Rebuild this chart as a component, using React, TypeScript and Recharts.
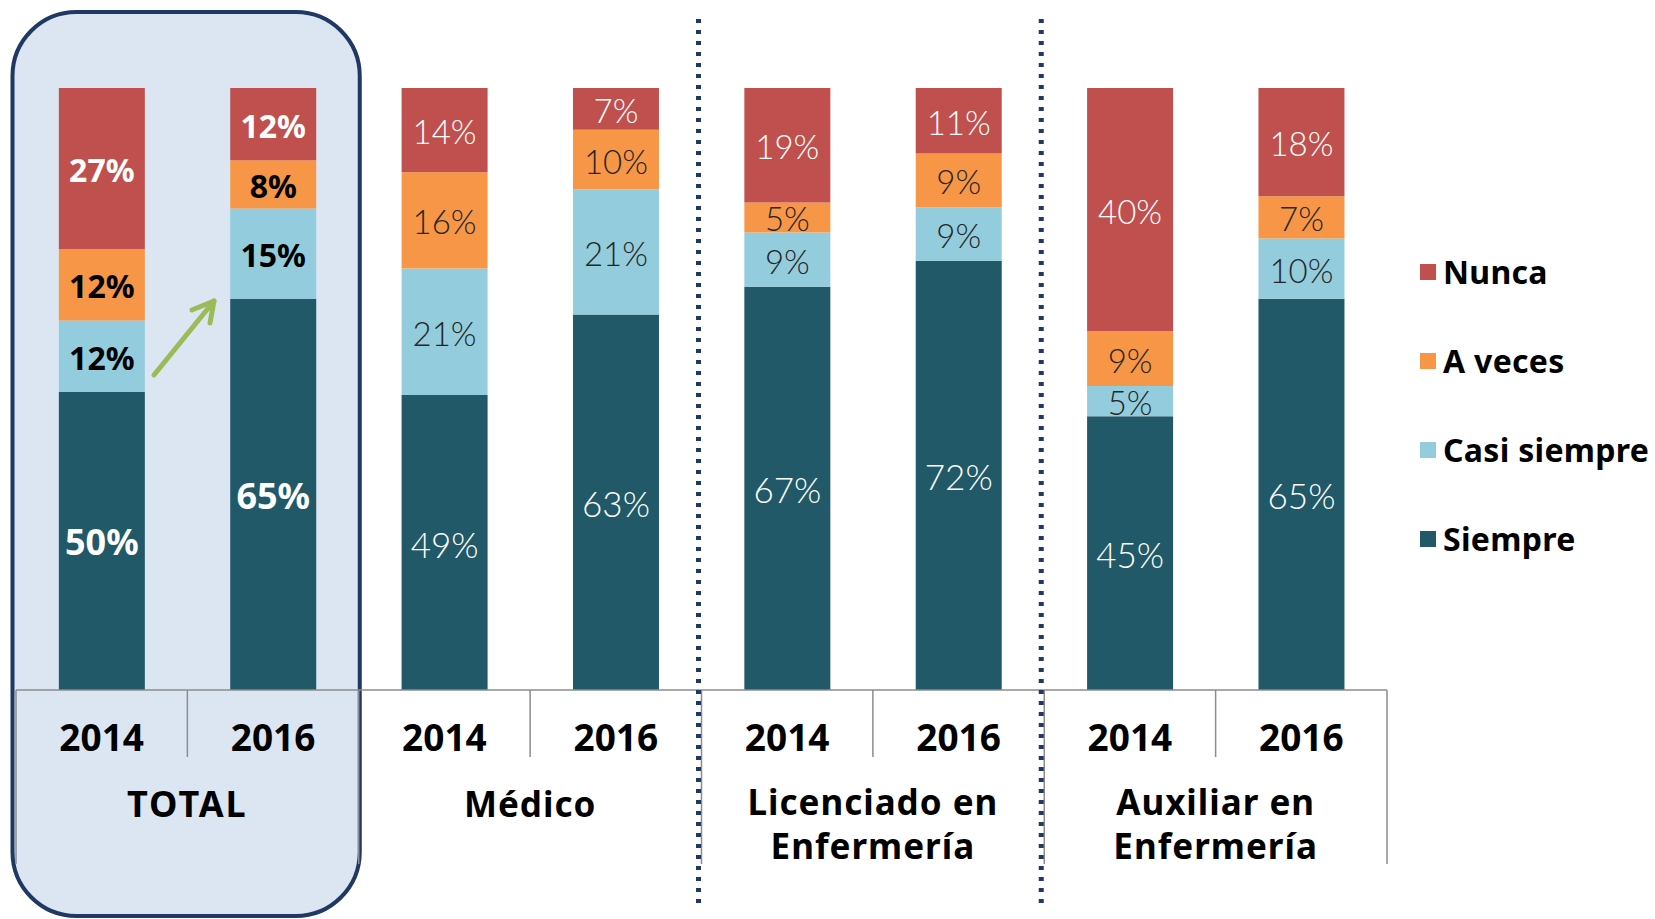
import React from 'react';
import { BarChart, Bar, XAxis, YAxis, LabelList, Legend, ReferenceArea } from 'recharts';

// ---- data ----
const categoryKeys = ['TOTAL 2014', 'TOTAL 2016', 'Médico 2014', 'Médico 2016', 'Lic 2014', 'Lic 2016', 'Aux 2014', 'Aux 2016'];
const years = ['2014', '2016', '2014', '2016', '2014', '2016', '2014', '2016'];
const groupLabels: string[][] = [['TOTAL'], ['Médico'], ['Licenciado en', 'Enfermería'], ['Auxiliar en', 'Enfermería']];
const siempre = [50, 65, 49, 63, 67, 72, 45, 65];
const casiSiempre = [12, 15, 21, 21, 9, 9, 5, 10];
const aVeces = [12, 8, 16, 10, 5, 9, 9, 7];
const nunca = [27, 12, 14, 7, 19, 11, 40, 18];
const seriesNames = ['Siempre', 'Casi siempre', 'A veces', 'Nunca'];
const seriesColors = ['#215968', '#93CDDD', '#F79646', '#C0504D'];

const data = categoryKeys.map((k, i) => ({
  key: k,
  year: years[i],
  siempre: siempre[i],
  casiSiempre: casiSiempre[i],
  aVeces: aVeces[i],
  nunca: nunca[i],
}));

// ---- layout ----
const CHART_W = 1655;
const CHART_H = 919;
const MARGIN = { top: 88, right: 268, bottom: 0, left: 16 };
const XAXIS_H = 229;
const AXIS_Y = CHART_H - MARGIN.bottom - XAXIS_H;
const BAND = (CHART_W - MARGIN.left - MARGIN.right) / categoryKeys.length;
const GRID = '#8C8C8C';
const NAVY = '#1F3864';
const BOLD_FONT = '"Noto Sans", "DejaVu Sans", sans-serif';
const LIGHT_FONT = 'Lato, "Open Sans", sans-serif';

function CategoryTick(props: any) {
  const { x } = props;
  let i = props.index;
  if (typeof i !== 'number') i = categoryKeys.indexOf(props.payload?.value);
  const left = x - BAND / 2;
  const groupStart = i % 2 === 0;
  const g = Math.floor(i / 2);
  return (
    <g>
      <line x1={left} x2={left} y1={AXIS_Y} y2={groupStart ? AXIS_Y + 174 : AXIS_Y + 67} stroke={GRID} strokeWidth={1.5} />
      {i === categoryKeys.length - 1 && (
        <line x1={x + BAND / 2} x2={x + BAND / 2} y1={AXIS_Y} y2={AXIS_Y + 174} stroke={GRID} strokeWidth={1.5} />
      )}
      <text x={x} y={AXIS_Y + 46} textAnchor="middle" dominantBaseline="central"
        style={{ fontFamily: BOLD_FONT, fontWeight: 700, fontSize: 37 }} fill="#000">
        {years[i]}
      </text>
      {groupStart && (
        <text x={x + BAND / 2} y={AXIS_Y + (groupLabels[g].length > 1 ? 111 : 113)} textAnchor="middle" dominantBaseline="central"
          style={{ fontFamily: BOLD_FONT, fontWeight: 700, fontSize: g === 0 ? 36 : 35, letterSpacing: g === 0 ? 2 : 1 }} fill="#000">
          {groupLabels[g].map((line, j) => (
            <tspan key={j} x={x + BAND / 2} dy={j === 0 ? 0 : 44}>{line}</tspan>
          ))}
        </text>
      )}
      {groupStart && i >= 4 && (
        <line x1={left - 3} x2={left - 3} y1={19} y2={906} stroke={NAVY} strokeWidth={5} strokeDasharray="4 7" />
      )}
    </g>
  );
}

function TotalBox(p: any) {
  const bx = p.x - 3.5;
  const bw = p.width + 4.5;
  const tailX = p.x + 138;
  const tailY = p.y + 287;
  const tipX = p.x + 198;
  const tipY = p.y + 213;
  return (
    <g>
      <rect x={bx} y={12} width={bw} height={904} rx={64} ry={64} fill="#DCE6F2" stroke={NAVY} strokeWidth={4} />
      <line x1={tailX} y1={tailY} x2={tipX} y2={tipY} stroke="#9BBB59" strokeWidth={5} strokeLinecap="round" />
      <polyline points={`${tipX - 22},${tipY + 9} ${tipX},${tipY} ${tipX - 4},${tipY + 22}`} fill="none" stroke="#9BBB59" strokeWidth={5} strokeLinecap="round" strokeLinejoin="round" />
    </g>
  );
}

const makeLabel = (textColor: string, big: boolean) => (props: any) => {
  const vb = props.viewBox && typeof props.viewBox.x === 'number' ? props.viewBox : props;
  const x = Number(vb.x);
  const y = Number(vb.y);
  const w = Number(vb.width);
  const h = Number(vb.height);
  const idx = props.index;
  const isTotal = typeof idx === 'number' ? idx < 2 : x < MARGIN.left + 2 * BAND;
  const cx = x + w / 2;
  const cy = y + h / 2;
  if (isTotal) {
    return (
      <text x={cx} y={cy + 1} textAnchor="middle" dominantBaseline="central"
        style={{ fontFamily: BOLD_FONT, fontWeight: 700, fontSize: big ? 36 : 32 }} fill={textColor}>
        {props.value}%
      </text>
    );
  }
  return (
    <text x={cx} y={cy + 1} textAnchor="middle" dominantBaseline="central"
      style={{ fontFamily: LIGHT_FONT, fontWeight: 300, fontSize: big ? 35 : 33 }} fill={textColor === '#000' ? '#262626' : textColor}>
      {props.value}%
    </text>
  );
};

function LegendContent() {
  const order = [3, 2, 1, 0];
  return (
    <div style={{ display: 'flex', flexDirection: 'column' }}>
      {order.map((k) => (
        <div key={k} style={{ height: 89, display: 'flex', alignItems: 'center' }}>
          <div style={{ width: 16, height: 16, background: seriesColors[k], marginRight: 7 }} />
          <span style={{ fontFamily: BOLD_FONT, fontWeight: 700, fontSize: 32, color: '#000', whiteSpace: 'nowrap', letterSpacing: 0.3 }}>
            {seriesNames[k]}
          </span>
        </div>
      ))}
    </div>
  );
}

export default function App() {
  return (
    <div style={{ position: 'absolute', left: 0, top: 0, width: CHART_W, height: CHART_H, background: '#fff' }}>
      <BarChart width={CHART_W} height={CHART_H} data={data} margin={MARGIN} stackOffset="expand" barCategoryGap="25%">
        <ReferenceArea x1="TOTAL 2014" x2="TOTAL 2016" ifOverflow="visible" shape={TotalBox} />
        <YAxis hide domain={[0, 1]} />
        <XAxis dataKey="key" height={XAXIS_H} interval={0} tickLine={false}
          axisLine={{ stroke: GRID, strokeWidth: 1.5 }} tick={CategoryTick} />
        <Bar dataKey="siempre" name="Siempre" stackId="a" fill={seriesColors[0]} isAnimationActive={false}>
          <LabelList dataKey="siempre" content={makeLabel('#fff', true)} />
        </Bar>
        <Bar dataKey="casiSiempre" name="Casi siempre" stackId="a" fill={seriesColors[1]} isAnimationActive={false}>
          <LabelList dataKey="casiSiempre" content={makeLabel('#000', false)} />
        </Bar>
        <Bar dataKey="aVeces" name="A veces" stackId="a" fill={seriesColors[2]} isAnimationActive={false}>
          <LabelList dataKey="aVeces" content={makeLabel('#000', false)} />
        </Bar>
        <Bar dataKey="nunca" name="Nunca" stackId="a" fill={seriesColors[3]} isAnimationActive={false}>
          <LabelList dataKey="nunca" content={makeLabel('#fff', false)} />
        </Bar>
        <Legend layout="vertical" align="center" verticalAlign="middle"
          wrapperStyle={{ left: 1420, top: 227, width: 235 }} content={LegendContent} />
      </BarChart>
    </div>
  );
}
